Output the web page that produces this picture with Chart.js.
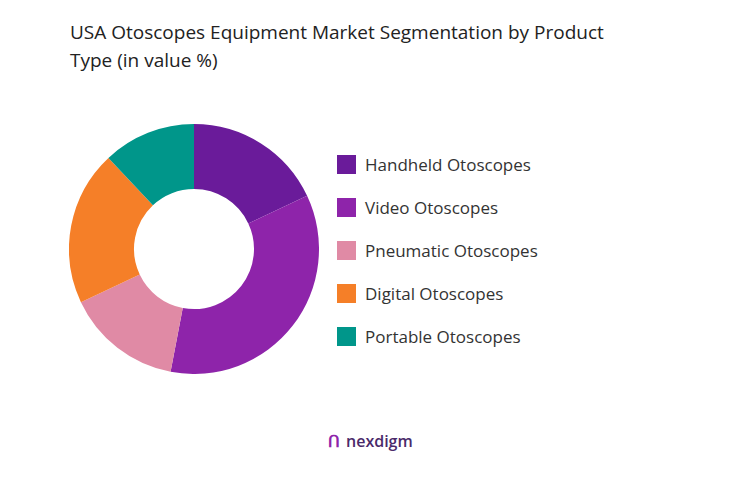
<!DOCTYPE html>
<html>
<head>
<meta charset="utf-8">
<script src="https://cdn.jsdelivr.net/npm/chart.js@4"></script>
<style>
  body { margin: 0; width: 731px; height: 484px; background: #fff; font-family: "Open Sans", sans-serif; position: relative; overflow: hidden; }
  #title { position: absolute; left: 70px; top: 18px; width: 580px; font-size: 19px; line-height: 28px; color: #222; }
  #wrap { position: absolute; left: 69px; top: 124px; width: 250px; height: 250px; }
  #legend { position: absolute; left: 337px; top: 143px; }
  .item { display: flex; align-items: center; height: 43px; font-size: 17px; color: #333; }
  .box { width: 19px; height: 19px; margin-right: 9px; }
  #logo { position: absolute; left: 328px; top: 430px; font-size: 16px; font-weight: 600; color: #4a2a6a; }
  #logo span { color: #8E24AA; font-weight: 700; margin-right: 6px; }
</style>
</head>
<body>
<div id="title">USA Otoscopes Equipment Market Segmentation by Product Type (in value %)</div>
<div id="wrap"><canvas id="pie"></canvas></div>
<div id="legend"></div>
<div id="logo"><span>ᑎ</span>nexdigm</div>
<script>
const categories = ['Handheld Otoscopes', 'Video Otoscopes', 'Pneumatic Otoscopes', 'Digital Otoscopes', 'Portable Otoscopes'];
const shares = [18, 35, 15, 20, 12];
const colors = ['#6A1B9A', '#8E24AA', '#E08AA5', '#F57F28', '#00968A'];

const legend = document.getElementById('legend');
categories.forEach((c, i) => {
    legend.innerHTML += '<div class="item"><div class="box" style="background:' + colors[i] + '"></div>' + c + '</div>';
});

new Chart(document.getElementById('pie').getContext('2d'), {
    type: 'doughnut',
    data: {
        labels: categories,
        datasets: [{ data: shares, backgroundColor: colors, borderWidth: 0 }]
    },
    options: {
        responsive: true,
        maintainAspectRatio: false,
        animation: false,
        cutout: '48%',
        plugins: { legend: { display: false }, tooltip: { enabled: false } }
    }
});
</script>
</body>
</html>
